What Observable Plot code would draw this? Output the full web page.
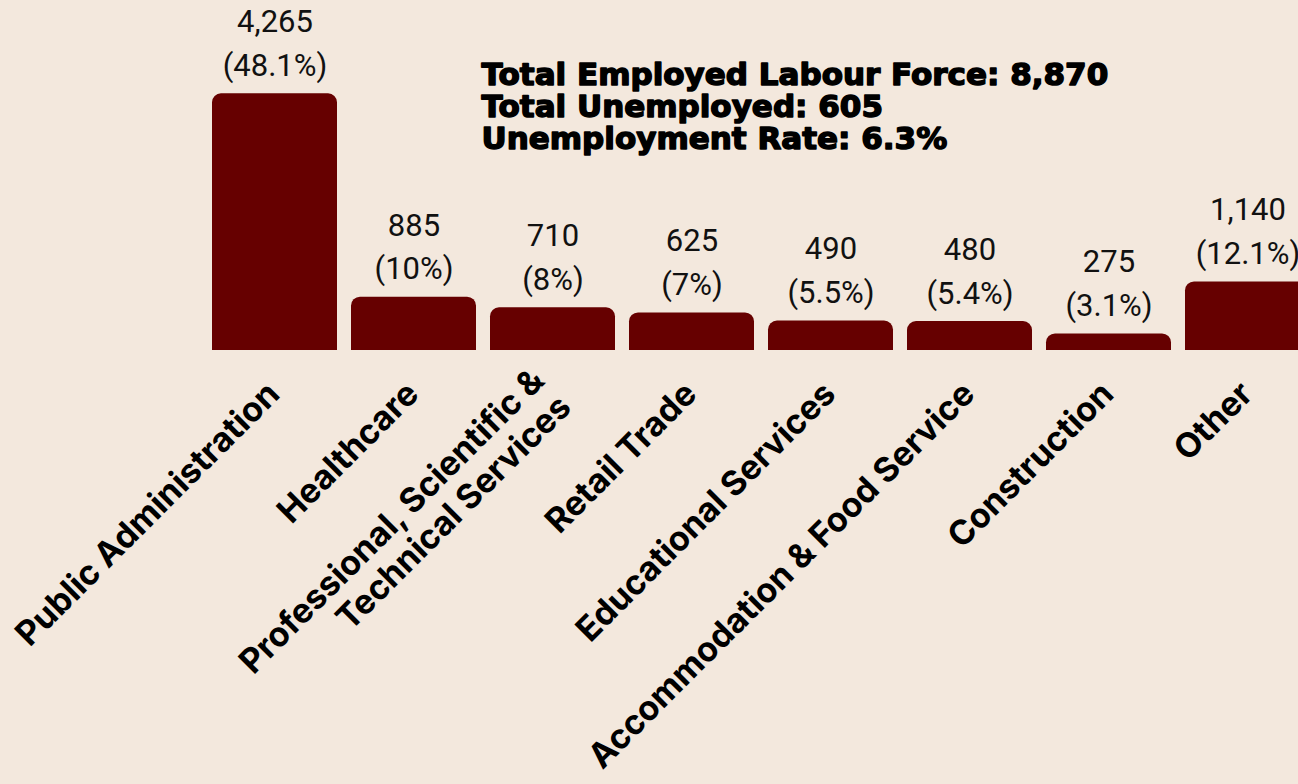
<!DOCTYPE html>
<html>
<head>
<meta charset="utf-8">
<script src="https://cdn.jsdelivr.net/npm/d3@7"></script>
<script src="https://cdn.jsdelivr.net/npm/@observablehq/plot@0.6"></script>
<style>
  html, body { margin: 0; padding: 0; background: #f3e8dd; overflow: hidden; width: 1298px; height: 784px; }
  #chart svg { display: block; }
</style>
</head>
<body>
<div id="chart"></div>
<script>
// Categories and values
const industries = [
  "Public Administration",
  "Healthcare",
  "Professional, Scientific &\nTechnical Services",
  "Retail Trade",
  "Educational Services",
  "Accommodation & Food Service",
  "Construction",
  "Other"
];
const employed = [4265, 885, 710, 625, 490, 480, 275, 1140];
const shares = ["48.1%", "10%", "8%", "7%", "5.5%", "5.4%", "3.1%", "12.1%"];
const summaryLines = [
  "Total Employed Labour Force: 8,870",
  "Total Unemployed: 605",
  "Unemployment Rate: 6.3%"
];

const fmt = d3.format(",");
const data = industries.map((name, i) => ({
  name,
  value: employed[i],
  label: `${fmt(employed[i])}\n(${shares[i]})`
}));

const chart = Plot.plot({
  width: 1326,
  height: 784,
  marginLeft: 197,
  marginRight: 0,
  marginTop: 93.3,
  marginBottom: 434,
  style: { background: "#f3e8dd", maxWidth: "none", overflow: "visible" },
  x: { domain: industries, padding: 0.1, axis: null },
  y: { domain: [0, d3.max(employed)], axis: null },
  marks: [
    Plot.barY(data, { x: "name", y: "value", fill: "#660000", ry1: 9 }),
    Plot.text(data, {
      x: "name", y: "value", text: "label",
      lineAnchor: "bottom", lineHeight: 1.41, dy: -18,
      fontFamily: "Roboto", fontSize: 31, fill: "#111"
    }),
    Plot.text(data, {
      x: "name", y: () => 0, text: "name",
      rotate: -45, textAnchor: "end", lineAnchor: "middle", lineHeight: 1.11,
      dx: -2, dy: 37,
      fontFamily: "Inter", fontWeight: 700, fontSize: 34, fill: "#000"
    }),
    Plot.text([summaryLines.join("\n")], {
      frameAnchor: "top-left", text: d => d,
      textAnchor: "start", lineAnchor: "top", lineHeight: 1.04,
      dx: 284, dy: -32,
      fontFamily: "DejaVu Sans", fontWeight: 700, fontSize: 31,
      fill: "#000", stroke: "#000", strokeWidth: 1.5
    })
  ]
});
document.getElementById("chart").appendChild(chart);
</script>
</body>
</html>
